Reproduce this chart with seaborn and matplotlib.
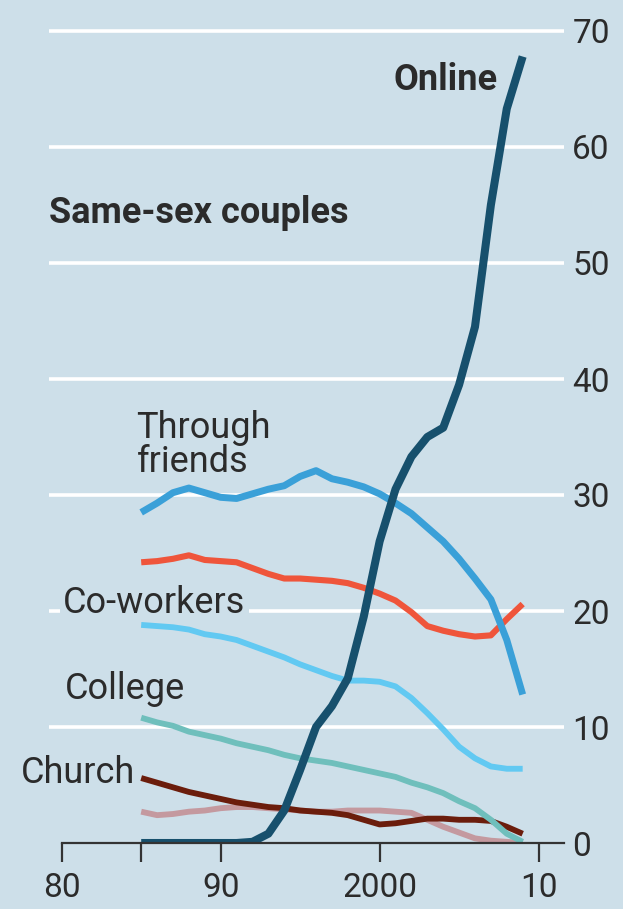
import matplotlib
matplotlib.use("Agg")
import matplotlib.pyplot as plt
import seaborn as sns
import pandas as pd

years = list(range(1985, 2010))

online = [0, 0, 0, 0, 0, 0, 0, 0.1, 0.8, 2.8, 6.3, 10.0, 11.8, 14.2, 19.5, 26.0,
          30.5, 33.3, 35.0, 35.8, 39.5, 44.5, 55.0, 63.3, 67.8]
friends = [28.5, 29.3, 30.2, 30.6, 30.2, 29.8, 29.7, 30.1, 30.5, 30.8, 31.6, 32.1,
           31.4, 31.1, 30.7, 30.1, 29.3, 28.4, 27.2, 26.0, 24.5, 22.8, 21.0, 17.5, 12.8]
bars = [24.2, 24.3, 24.5, 24.8, 24.4, 24.3, 24.2, 23.7, 23.2, 22.8, 22.8, 22.7,
        22.6, 22.4, 22.0, 21.5, 20.9, 19.9, 18.7, 18.3, 18.0, 17.8, 17.9, 19.3, 20.6]
coworkers = [18.8, 18.7, 18.6, 18.4, 18.0, 17.8, 17.5, 17.0, 16.5, 16.0, 15.4, 14.9,
             14.4, 14.0, 14.0, 13.9, 13.5, 12.5, 11.2, 9.8, 8.3, 7.3, 6.6, 6.4, 6.4]
college = [10.8, 10.4, 10.1, 9.6, 9.3, 9.0, 8.6, 8.3, 8.0, 7.6, 7.3, 7.1,
           6.9, 6.6, 6.3, 6.0, 5.7, 5.2, 4.8, 4.3, 3.6, 3.0, 2.0, 0.8, 0.1]
church = [5.6, 5.2, 4.8, 4.4, 4.1, 3.8, 3.5, 3.3, 3.1, 3.0, 2.8, 2.7,
          2.6, 2.4, 2.0, 1.6, 1.7, 1.9, 2.1, 2.1, 2.0, 2.0, 1.9, 1.4, 0.8]
neighbours = [2.7, 2.4, 2.5, 2.7, 2.8, 3.0, 3.1, 3.1, 3.0, 2.9, 2.8, 2.7,
              2.7, 2.8, 2.8, 2.8, 2.7, 2.6, 2.0, 1.4, 0.9, 0.4, 0.2, 0.1, 0.0]

xtick_vals = [1980, 1990, 2000, 2010]
xtick_labels = ["80", "90", "2000", "10"]
ytick_vals = [0, 10, 20, 30, 40, 50, 60, 70]

BG = "#cddfe9"
TXT = "#2b2b2b"
FS = 26

sns.set_theme(style="white")
plt.rcParams["font.family"] = ["Roboto", "DejaVu Sans"]

fig = plt.figure(figsize=(6.23, 9.09), dpi=100, facecolor=BG)
ax = fig.add_axes([49 / 623, 1 - 843 / 909, (564 - 49) / 623, (843 - 19.4) / 909])
ax.set_facecolor(BG)

series = [
    ("neighbours", neighbours, "#c4999f", 4.2),
    ("church", church, "#6b1d0c", 4.2),
    ("college", college, "#6fbfbc", 4.2),
    ("coworkers", coworkers, "#62c9f2", 4.2),
    ("bars", bars, "#ef553b", 4.4),
    ("friends", friends, "#3aa0d8", 5.0),
    ("online", online, "#17506d", 5.8),
]
for name, vals, col, lw in series:
    df = pd.DataFrame({"year": years, "share": vals})
    sns.lineplot(data=df, x="year", y="share", ax=ax, color=col, linewidth=lw,
                 solid_capstyle="butt", solid_joinstyle="round", zorder=3)

ax.set_xlim(1979.2, 2011.6)
ax.set_ylim(0, 71)
ax.set_xlabel("")
ax.set_ylabel("")

for s in ["top", "left", "right"]:
    ax.spines[s].set_visible(False)
ax.spines["bottom"].set_color("#333333")
ax.spines["bottom"].set_linewidth(1.6)
ax.spines["bottom"].set_bounds(1980, 2011.6)
ax.spines["bottom"].set_zorder(4)

ax.set_xticks(xtick_vals)
ax.set_xticklabels(xtick_labels)
ax.set_xticks([1985], minor=True)
ax.tick_params(axis="x", which="both", direction="out", length=14, width=1.6,
               color="#333333", labelsize=24, labelcolor=TXT, pad=7, bottom=True)

ax.yaxis.tick_right()
ax.set_yticks(ytick_vals)
ax.set_yticklabels([str(v) for v in ytick_vals])
ax.tick_params(axis="y", length=0, labelsize=24, labelcolor=TXT, pad=6)
for v in ytick_vals[1:]:
    ax.axhline(v, color="white", linewidth=2.6, zorder=1)

ax.text(1979.2, 54.3, "Same-sex couples", fontsize=FS, fontweight="bold",
        color=TXT, ha="left", va="center")
ax.text(2007.45, 65.8, "Online", fontsize=FS, fontweight="bold", color=TXT,
        ha="right", va="center")
ax.text(1984.7, 34.3, "Through\nfriends", fontsize=FS, color=TXT, ha="left",
        va="center", linespacing=0.95)
ax.text(1980.1, 20.7, "Co-workers", fontsize=FS, color=TXT, ha="left",
        va="center", zorder=2,
        bbox=dict(boxstyle="square,pad=0.1", facecolor=BG, edgecolor="none"))
ax.text(1980.2, 13.3, "College", fontsize=FS, color=TXT, ha="left", va="center")
ax.text(1977.4, 6.0, "Church", fontsize=FS, color=TXT, ha="left", va="center",
        clip_on=False)

fig.savefig("out.png", dpi=100, facecolor=BG)
